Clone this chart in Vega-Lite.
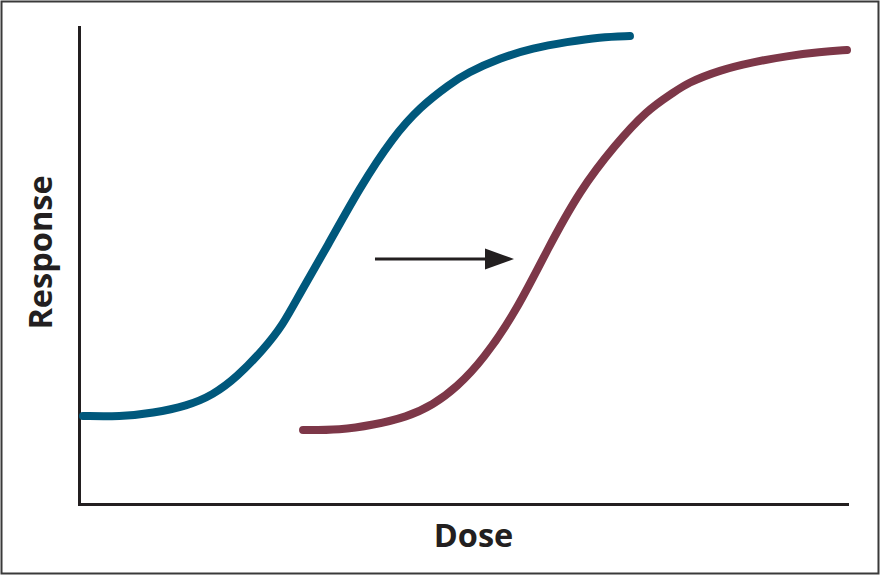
{
  "$schema": "https://vega.github.io/schema/vega-lite/v6.json",
  "width": 768,
  "height": 477,
  "autosize": "none",
  "padding": {"left": 79, "top": 27, "right": 34, "bottom": 72},
  "background": "white",
  "config": {
    "view": {"stroke": null},
    "axis": {
      "domainColor": "#231f20",
      "domainWidth": 3,
      "domainCap": "square",
      "ticks": false,
      "labels": false,
      "grid": false,
      "titleFont": "Open Sans",
      "titleFontWeight": "bold",
      "titleFontSize": 32.5,
      "titleColor": "#231f20"
    }
  },
  "datasets": {
    "curves": [
      {"series": "before", "dose": 0.52, "response": 18.45},
      {"series": "before", "dose": 5.34, "response": 18.3},
      {"series": "before", "dose": 9.64, "response": 19.08},
      {"series": "before", "dose": 14.06, "response": 20.55},
      {"series": "before", "dose": 17.45, "response": 22.85},
      {"series": "before", "dose": 20.57, "response": 26.62},
      {"series": "before", "dose": 23.96, "response": 32.29},
      {"series": "before", "dose": 26.56, "response": 37.53},
      {"series": "before", "dose": 28.78, "response": 44.23},
      {"series": "before", "dose": 32.29, "response": 53.88},
      {"series": "before", "dose": 36.59, "response": 66.46},
      {"series": "before", "dose": 40.89, "response": 76.94},
      {"series": "before", "dose": 44.4, "response": 83.23},
      {"series": "before", "dose": 48.31, "response": 88.05},
      {"series": "before", "dose": 50.52, "response": 90.36},
      {"series": "before", "dose": 54.82, "response": 93.5},
      {"series": "before", "dose": 59.11, "response": 95.6},
      {"series": "before", "dose": 63.54, "response": 96.86},
      {"series": "before", "dose": 67.84, "response": 97.9},
      {"series": "before", "dose": 71.74, "response": 98.11},
      {"series": "after", "dose": 29.17, "response": 15.51},
      {"series": "after", "dose": 33.98, "response": 15.51},
      {"series": "after", "dose": 38.28, "response": 16.56},
      {"series": "after", "dose": 42.71, "response": 18.24},
      {"series": "after", "dose": 46.09, "response": 20.75},
      {"series": "after", "dose": 49.22, "response": 24.53},
      {"series": "after", "dose": 52.6, "response": 30.19},
      {"series": "after", "dose": 57.03, "response": 40.67},
      {"series": "after", "dose": 60.94, "response": 53.25},
      {"series": "after", "dose": 65.23, "response": 65.83},
      {"series": "after", "dose": 69.79, "response": 75.26},
      {"series": "after", "dose": 73.96, "response": 82.6},
      {"series": "after", "dose": 77.34, "response": 86.16},
      {"series": "after", "dose": 79.17, "response": 88.26},
      {"series": "after", "dose": 83.46, "response": 90.99},
      {"series": "after", "dose": 87.76, "response": 92.66},
      {"series": "after", "dose": 92.19, "response": 93.92},
      {"series": "after", "dose": 96.48, "response": 94.76},
      {"series": "after", "dose": 100.0, "response": 95.18}
    ],
    "arrow": [
      {"start": 38.54, "end": 53.0, "head": 54.75, "level": 51.36}
    ]
  },
  "layer": [
    {
      "data": {"values": [{}]},
      "mark": {"type": "rect", "fill": null, "stroke": "#3a3a3a", "strokeWidth": 2, "clip": false},
      "encoding": {
        "x": {"datum": -10.09, "type": "quantitative", "scale": {"domain": [0, 100]}},
        "x2": {"datum": 104.1},
        "y": {"datum": 105.35, "type": "quantitative", "scale": {"domain": [0, 100]}},
        "y2": {"datum": -14.57}
      }
    },
    {
      "data": {"name": "curves"},
      "mark": {"type": "line", "strokeWidth": 8, "strokeCap": "round", "strokeJoin": "round", "interpolate": "basis"},
      "encoding": {
        "x": {"field": "dose", "type": "quantitative", "scale": {"domain": [0, 100]},
              "axis": {"title": "Dose", "titleX": 394, "titleY": 42, "titleBaseline": "alphabetic", "titleAnchor": null}},
        "y": {"field": "response", "type": "quantitative", "scale": {"domain": [0, 100]},
              "axis": {"title": "Response", "titleX": -28, "titleY": 225, "titleAngle": -90, "titleBaseline": "alphabetic", "titleAlign": "center"}},
        "detail": {"field": "series"},
        "color": {
          "field": "series", "type": "nominal",
          "scale": {"domain": ["before", "after"], "range": ["#00587c", "#7d3748"]},
          "legend": null
        }
      }
    },
    {
      "data": {"name": "arrow"},
      "mark": {"type": "rule", "strokeWidth": 3, "color": "#231f20"},
      "encoding": {
        "x": {"field": "start", "type": "quantitative"},
        "x2": {"field": "end"},
        "y": {"field": "level", "type": "quantitative"}
      }
    },
    {
      "data": {"name": "arrow"},
      "mark": {"type": "point", "filled": true, "color": "#231f20", "opacity": 1, "size": 841, "shape": "M -1 -0.72 L 1 0 L -1 0.72 Z"},
      "encoding": {
        "x": {"field": "head", "type": "quantitative"},
        "y": {"field": "level", "type": "quantitative"}
      }
    }
  ]
}
